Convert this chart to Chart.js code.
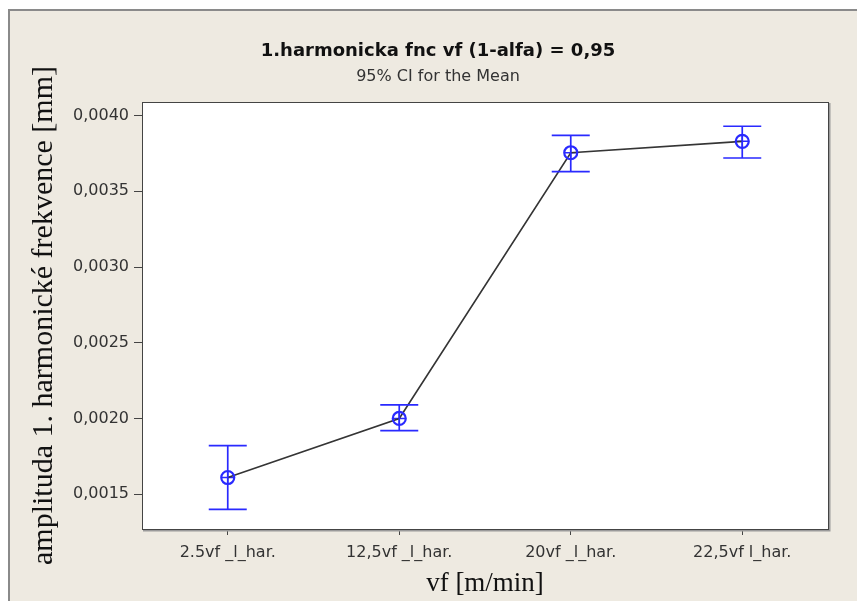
<!DOCTYPE html>
<html>
<head>
<meta charset="utf-8">
<script src="https://cdn.jsdelivr.net/npm/chart.js@4.4.0/dist/chart.umd.min.js"></script>
<style>
    html, body { margin: 0; padding: 0; background: #ffffff; }
    #wrap { width: 857px; height: 601px; position: relative; }
</style>
</head>
<body>
<div id="wrap"><canvas id="harmChart" width="857" height="601"></canvas></div>
<script>
// data
const labels = ["2.5vf _l_har.", "12,5vf _l_har.", "20vf _l_har.", "22,5vf l_har."];
const means = [0.00161, 0.00200, 0.003755, 0.00383];
const ciLow = [0.00140, 0.00192, 0.00363, 0.00372];
const ciHigh = [0.00182, 0.00209, 0.00387, 0.00393];
const yTicks = [0.0015, 0.0020, 0.0025, 0.0030, 0.0035, 0.0040];

(function () {
    "use strict";

    Chart.defaults.font.family = "'DejaVu Sans', sans-serif";
    Chart.defaults.color = "#333333";

    const blue = "#2a2aff";

    // beige panel + frame, white plot area with a darker edge
    const backdrop = {
        id: "backdrop",
        beforeDraw(chart) {
            const ctx = chart.ctx;
            const a = chart.chartArea;
            ctx.save();
            ctx.fillStyle = "#ffffff";
            ctx.fillRect(0, 0, chart.width, chart.height);
            ctx.fillStyle = "#eeeae1";
            ctx.fillRect(9, 10, chart.width - 9, chart.height - 10);
            ctx.strokeStyle = "#8a8a8a";
            ctx.lineWidth = 2;
            ctx.beginPath();
            ctx.moveTo(9, chart.height);
            ctx.lineTo(9, 10);
            ctx.lineTo(chart.width, 10);
            ctx.stroke();
            ctx.fillStyle = "#ffffff";
            ctx.fillRect(a.left, a.top, a.right - a.left, a.bottom - a.top);
            ctx.restore();
        },
        afterDraw(chart) {
            const ctx = chart.ctx;
            const a = chart.chartArea;
            ctx.save();
            ctx.strokeStyle = "#9a9a9a";
            ctx.lineWidth = 2;
            ctx.beginPath();
            ctx.moveTo(a.right + 1.5, a.top + 1);
            ctx.lineTo(a.right + 1.5, a.bottom + 1.5);
            ctx.lineTo(a.left + 1, a.bottom + 1.5);
            ctx.stroke();
            ctx.strokeStyle = "#444444";
            ctx.lineWidth = 1;
            ctx.strokeRect(a.left + 0.5, a.top + 0.5, a.right - a.left, a.bottom - a.top);
            ctx.restore();
        }
    };

    // confidence interval whiskers
    const errorBars = {
        id: "errorBars",
        afterDatasetsDraw(chart) {
            const ctx = chart.ctx;
            const xs = chart.scales.x;
            const ys = chart.scales.y;
            ctx.save();
            ctx.strokeStyle = blue;
            ctx.lineWidth = 1.7;
            for (let i = 0; i < means.length; i++) {
                const x = xs.getPixelForValue(i);
                const yl = ys.getPixelForValue(ciLow[i]);
                const yh = ys.getPixelForValue(ciHigh[i]);
                ctx.beginPath();
                ctx.moveTo(x, yl);
                ctx.lineTo(x, yh);
                ctx.moveTo(x - 19, yh);
                ctx.lineTo(x + 19, yh);
                ctx.moveTo(x - 19, yl);
                ctx.lineTo(x + 19, yl);
                ctx.stroke();
            }
            ctx.restore();
        }
    };

    const ctx = document.getElementById("harmChart").getContext("2d");

    var myChart = new Chart(ctx, {
        type: "line",
        data: {
            labels: labels,
            datasets: [{
                    label: "mean",
                    data: means,
                    borderColor: "#353535",
                    borderWidth: 1.6,
                    pointStyle: "circle",
                    pointRadius: 6.5,
                    pointBorderColor: blue,
                    pointBackgroundColor: "rgba(0,0,0,0)",
                    pointBorderWidth: 2.2,
                    tension: 0
                },
                {
                    label: "cross",
                    data: means,
                    showLine: false,
                    pointStyle: "cross",
                    pointRadius: 6.5,
                    pointBorderColor: blue,
                    pointBorderWidth: 1.5
                }
            ]
        },
        options: {
            responsive: false,
            animation: false,
            layout: { padding: { left: 48, right: 29, top: 0, bottom: 0 } },
            plugins: {
                legend: { display: false },
                tooltip: { enabled: false },
                title: {
                    display: true,
                    text: "1.harmonicka fnc vf (1-alfa) = 0,95",
                    color: "#111111",
                    font: { size: 18, weight: "bold", lineHeight: 1.2 },
                    padding: { top: 40.5, bottom: 2 }
                },
                subtitle: {
                    display: true,
                    text: "95% CI for the Mean",
                    color: "#333333",
                    font: { size: 16, lineHeight: 1.2 },
                    padding: { top: 3.3, bottom: 15.4 }
                }
            },
            scales: {
                x: {
                    type: "category",
                    offset: true,
                    afterFit(scale) { scale.height = 72; },
                    grid: { display: true, drawOnChartArea: false, drawTicks: true, tickLength: 6, color: "#444444", offset: false },
                    border: { display: false },
                    ticks: { color: "#333333", font: { size: 16 }, padding: 8, maxRotation: 0 },
                    title: {
                        display: true,
                        text: "vf [m/min]",
                        color: "#111111",
                        font: { family: "'Liberation Serif', 'DejaVu Serif', serif", size: 27, lineHeight: 1 },
                        padding: { top: 0, bottom: 4 }
                    }
                },
                y: {
                    type: "linear",
                    min: 0.00127,
                    max: 0.00409,
                    afterFit(scale) { scale.width = 94; },
                    afterBuildTicks(scale) {
                        scale.ticks = yTicks.map(function (v) { return { value: v }; });
                    },
                    grid: { display: true, drawOnChartArea: false, drawTicks: true, tickLength: 8, color: "#444444" },
                    border: { display: false },
                    ticks: {
                        color: "#333333",
                        font: { size: 16 },
                        padding: 5,
                        callback: function (v) { return v.toFixed(4).replace(".", ","); }
                    },
                    title: {
                        display: true,
                        text: "amplituda 1. harmonické frekvence [mm]",
                        color: "#111111",
                        font: { family: "'Liberation Serif', 'DejaVu Serif', serif", size: 30, lineHeight: 1 },
                        padding: { top: -19, bottom: 0 }
                    }
                }
            }
        },
        plugins: [backdrop, errorBars]
    });
})();
</script>
</body>
</html>
